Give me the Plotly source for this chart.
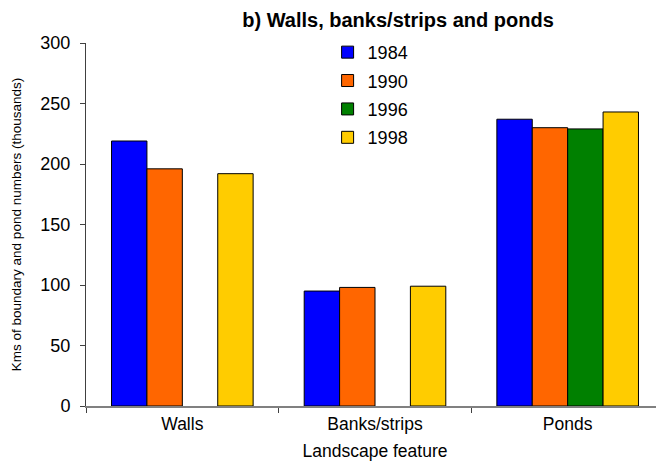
import plotly.graph_objects as go

# landscape features and year series (thousands)
features = ["Walls", "Banks/strips", "Ponds"]
years = ["1984", "1990", "1996", "1998"]
v1984 = [219, 95, 237]
v1990 = [196, 98, 230]
v1996 = [None, None, 229]
v1998 = [192, 99, 243]

colors = ["#0000FF", "#FF6600", "#008000", "#FFCC00"]

fig = go.Figure()
for yr, vals, col in zip(years, [v1984, v1990, v1996, v1998], colors):
    fig.add_trace(go.Bar(
        x=features, y=vals, name=yr,
        marker=dict(color=col, line=dict(color="black", width=1)),
        legendgroup=yr,
    ))

# page has an 8px body margin, so offsets below account for it
fig.update_layout(
    width=664, height=462,
    margin=dict(l=75, r=8, t=35, b=64),
    plot_bgcolor="white", paper_bgcolor="white",
    font=dict(family="Arial, Liberation Sans, sans-serif", color="black"),
    barmode="group", bargap=0.265, bargroupgap=0,
    title=dict(text="<b>b) Walls, banks/strips and ponds</b>",
               x=390 / 664, xanchor="center", y=1 - 12 / 462, yanchor="middle",
               font=dict(size=20)),
    legend=dict(x=0.418, y=1.025, xanchor="left", yanchor="top",
                font=dict(size=18), tracegroupgap=2,
                bgcolor="rgba(0,0,0,0)"),
    showlegend=True,
)

fig.update_xaxes(
    showline=True, linecolor="#808080", linewidth=1.5,
    ticks="outside", tickson="boundaries", ticklen=5, tickcolor="#404040",
    tickfont=dict(size=17.5), ticklabelstandoff=1,
    title=dict(text="Landscape feature", font=dict(size=17.5), standoff=12),
)
fig.update_yaxes(
    range=[0, 300], dtick=50,
    showline=True, linecolor="#404040", linewidth=1,
    ticks="outside", ticklen=5, tickcolor="#404040",
    showgrid=False, zeroline=False,
    tickfont=dict(size=18), ticklabelstandoff=6,
    title=dict(text="Kms of boundary and pond numbers (thousands)",
               font=dict(size=13.5), standoff=15),
)

fig.write_html("out.html")
